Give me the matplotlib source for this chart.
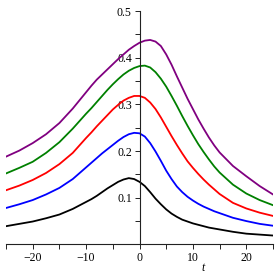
import numpy as np
import matplotlib
matplotlib.use("Agg")
import matplotlib.pyplot as plt
from matplotlib.ticker import FixedLocator

# values (denser around the humps)
t = [-25, -22.5, -20, -17.5, -15, -12.5,
     -10, -9, -8, -7, -6, -5, -4, -3, -2, -1, 0, 1, 2, 3, 4, 5, 6, 7, 8, 9,
     10, 11, 12, 13, 14, 15,
     17.5, 20, 22.5, 25]

purple = [0.188, 0.201, 0.217, 0.236, 0.260, 0.291,
          0.326, 0.340, 0.353, 0.364, 0.375, 0.386, 0.397, 0.407, 0.417, 0.425,
          0.432, 0.4365, 0.438, 0.4345, 0.425, 0.407, 0.385, 0.360, 0.336, 0.312,
          0.290, 0.268, 0.248, 0.229, 0.212, 0.197,
          0.168, 0.146, 0.125, 0.107]
green = [0.152, 0.164, 0.177, 0.196, 0.219, 0.248,
         0.280, 0.292, 0.305, 0.318, 0.331, 0.343, 0.354, 0.364, 0.372, 0.378,
         0.382, 0.383, 0.379, 0.369, 0.355, 0.338, 0.318, 0.297, 0.275, 0.254,
         0.234, 0.215, 0.198, 0.182, 0.167, 0.154,
         0.128, 0.109, 0.095, 0.084]
red = [0.116, 0.126, 0.138, 0.153, 0.172, 0.196,
       0.228, 0.240, 0.253, 0.265, 0.277, 0.289, 0.299, 0.308, 0.314, 0.318,
       0.318, 0.314, 0.304, 0.290, 0.272, 0.252, 0.232, 0.213, 0.195, 0.178,
       0.164, 0.151, 0.139, 0.128, 0.118, 0.108,
       0.089, 0.077, 0.068, 0.061]
blue = [0.078, 0.086, 0.095, 0.107, 0.121, 0.140,
        0.165, 0.175, 0.185, 0.195, 0.204, 0.213, 0.222, 0.230, 0.236, 0.239,
        0.238, 0.231, 0.217, 0.199, 0.179, 0.158, 0.140, 0.124, 0.112, 0.102,
        0.094, 0.087, 0.081, 0.076, 0.071, 0.067,
        0.057, 0.050, 0.044, 0.040]
black = [0.039, 0.044, 0.049, 0.056, 0.064, 0.076,
         0.091, 0.097, 0.104, 0.112, 0.120, 0.127, 0.134, 0.139, 0.142, 0.140,
         0.134, 0.125, 0.112, 0.098, 0.086, 0.075, 0.066, 0.059, 0.053, 0.049,
         0.045, 0.042, 0.039, 0.036, 0.034, 0.032,
         0.027, 0.023, 0.021, 0.019]

series = [(black, "black"), (blue, "#0000ff"), (red, "#ff0000"),
          (green, "#008000"), (purple, "#800080")]

plt.rcParams['font.family'] = ['Liberation Serif', 'DejaVu Serif']

fig = plt.figure(figsize=(2.77, 2.77), dpi=100)
ax = fig.add_axes([6/277, 32.6/277, 267/277, 233.4/277])

for ys, c in series:
    ax.plot(t, ys, color=c, lw=1.3, solid_joinstyle='round')

ax.set_xlim(-25, 25)
ax.set_ylim(0, 0.5)

# maple-like axes through the origin
ax.spines['top'].set_visible(False)
ax.spines['right'].set_visible(False)
ax.spines['left'].set_position(('data', 0))
ax.spines['bottom'].set_position(('data', 0))
for s in ['left', 'bottom']:
    ax.spines[s].set_linewidth(0.8)
    ax.spines[s].set_color('#222222')

ax.xaxis.set_major_locator(FixedLocator([-20, -10, 0, 10, 20]))
ax.xaxis.set_minor_locator(FixedLocator([-25, -15, -5, 5, 15, 25]))
ax.yaxis.set_major_locator(FixedLocator([0.1, 0.2, 0.3, 0.4, 0.5]))
ax.yaxis.set_minor_locator(FixedLocator([0.05, 0.15, 0.25, 0.35, 0.45]))
ax.set_xticklabels(['\u221220', '\u221210', '0', '10', '20'])
ax.set_yticklabels(['0.1', '0.2', '0.3', '0.4', '0.5'])

ax.tick_params(which='both', direction='out', length=3.5, width=0.7,
               color='#222222', labelsize=8.5, pad=2)

fig.text(203/277, 1 - 268/277, 't', style='italic', fontsize=8.5,
         ha='center', va='center')

fig.savefig("out.png", dpi=100)
